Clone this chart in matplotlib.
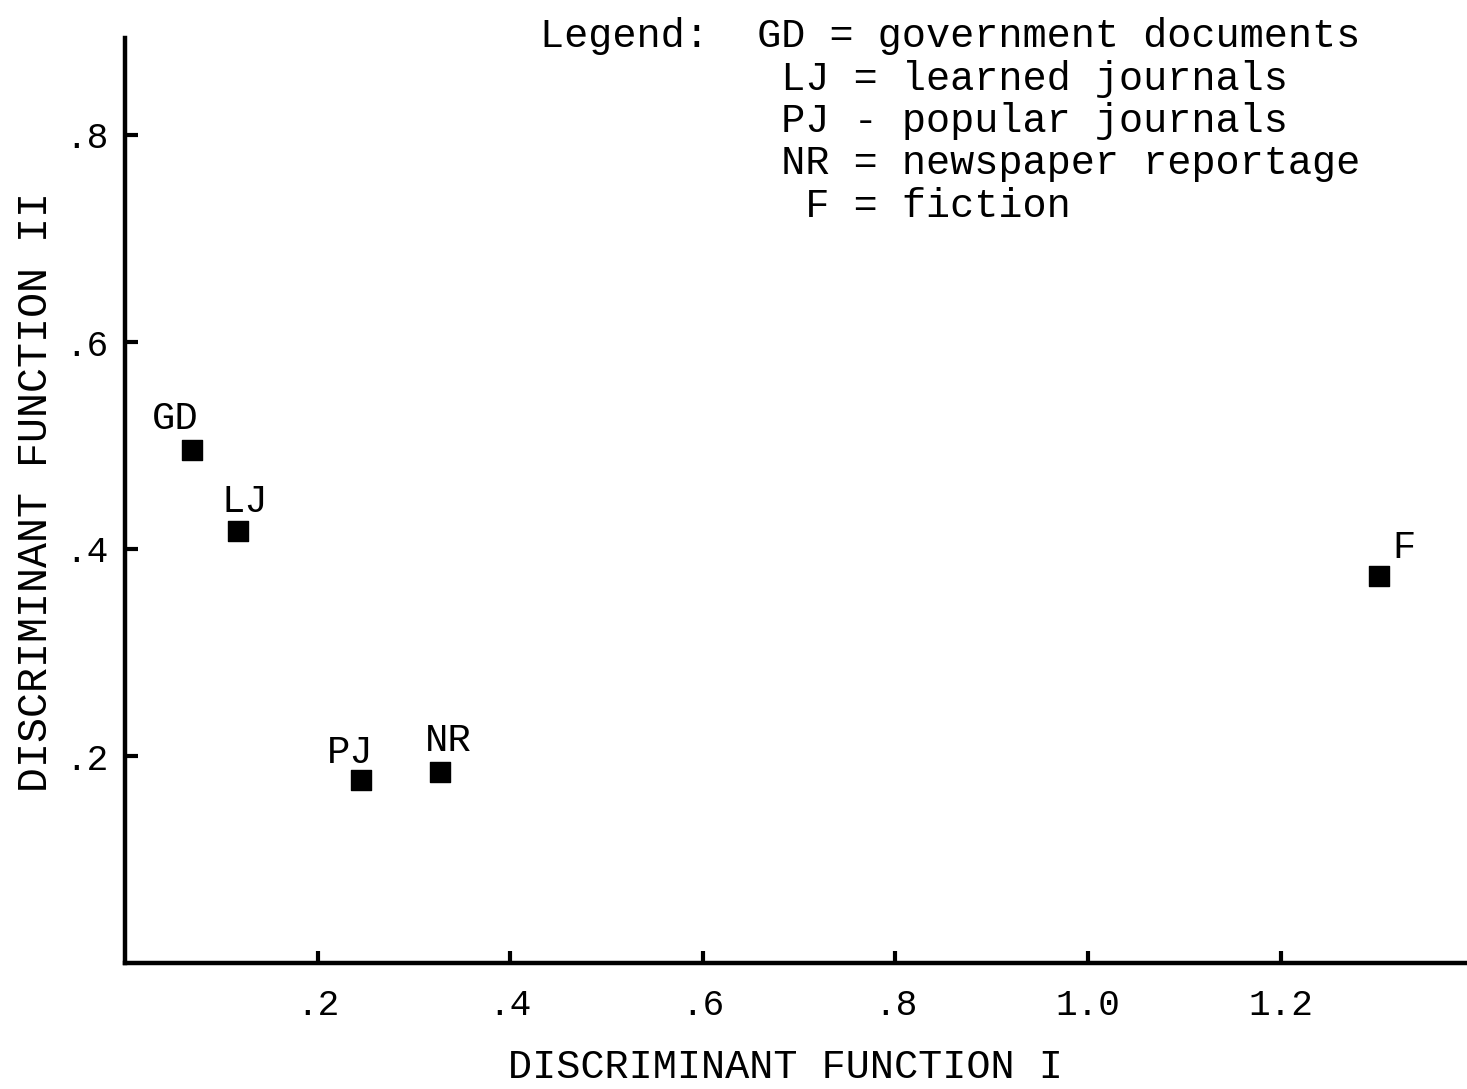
import matplotlib.pyplot as plt

# group means on the two discriminant functions
groups = ['GD', 'LJ', 'PJ', 'NR', 'F']
func_1 = [0.07, 0.117, 0.245, 0.327, 1.302]
func_2 = [0.496, 0.417, 0.177, 0.185, 0.374]

legend_lines = [
    'Legend:  GD = government documents',
    '          LJ = learned journals',
    '          PJ - popular journals',
    '          NR = newspaper reportage',
    '           F = fiction',
]

x_ticks = [0.2, 0.4, 0.6, 0.8, 1.0, 1.2]
x_tick_labels = ['.2', '.4', '.6', '.8', '1.0', '1.2']
y_ticks = [0.2, 0.4, 0.6, 0.8]
y_tick_labels = ['.2', '.4', '.6', '.8']

# label offsets (points) relative to each marker
offsets = [(-12, 9), (5, 8), (-8, 6), (6, 9), (18, 7)]

plt.rcParams['font.family'] = ['Liberation Mono', 'DejaVu Sans Mono']

fig = plt.figure(figsize=(14.67, 10.89), dpi=100)
W, H = 1467, 1089
x0, y0 = 125, 963
ax = fig.add_axes([x0 / W, 1 - y0 / H, (W - x0) / W, (y0 - 38) / H])
ax.set_xlim(0, (W - x0) / 963)
ax.set_ylim(0, (y0 - 38) / 1035)

ax.scatter(func_1, func_2, marker='s', s=190, c='black', zorder=3)
for name, xv, yv, (dx, dy) in zip(groups, func_1, func_2, offsets):
    ax.annotate(name, (xv, yv), xytext=(dx, dy), textcoords='offset points',
                ha='center', va='bottom', fontsize=28)

for spine in ['top', 'right']:
    ax.spines[spine].set_visible(False)
for spine in ['left', 'bottom']:
    ax.spines[spine].set_linewidth(3.2)

ax.set_xticks(x_ticks)
ax.set_xticklabels(x_tick_labels)
ax.set_yticks(y_ticks)
ax.set_yticklabels(y_tick_labels)
ax.tick_params(direction='in', length=9, width=3, labelsize=26)
ax.tick_params(axis='x', pad=18)
ax.tick_params(axis='y', pad=12)

ax.set_xlabel('DISCRIMINANT FUNCTION I', fontsize=29)
ax.xaxis.set_label_coords(0.492, -0.092)
ax.set_ylabel('DISCRIMINANT FUNCTION II', fontsize=30, va='center')
ax.yaxis.set_label_coords(-0.066, 0.509)

fig.text(540 / W, 1 - 17 / H, '\n'.join(legend_lines), fontsize=29,
         ha='left', va='top', linespacing=1.15)

fig.savefig('out.png', dpi=100)
